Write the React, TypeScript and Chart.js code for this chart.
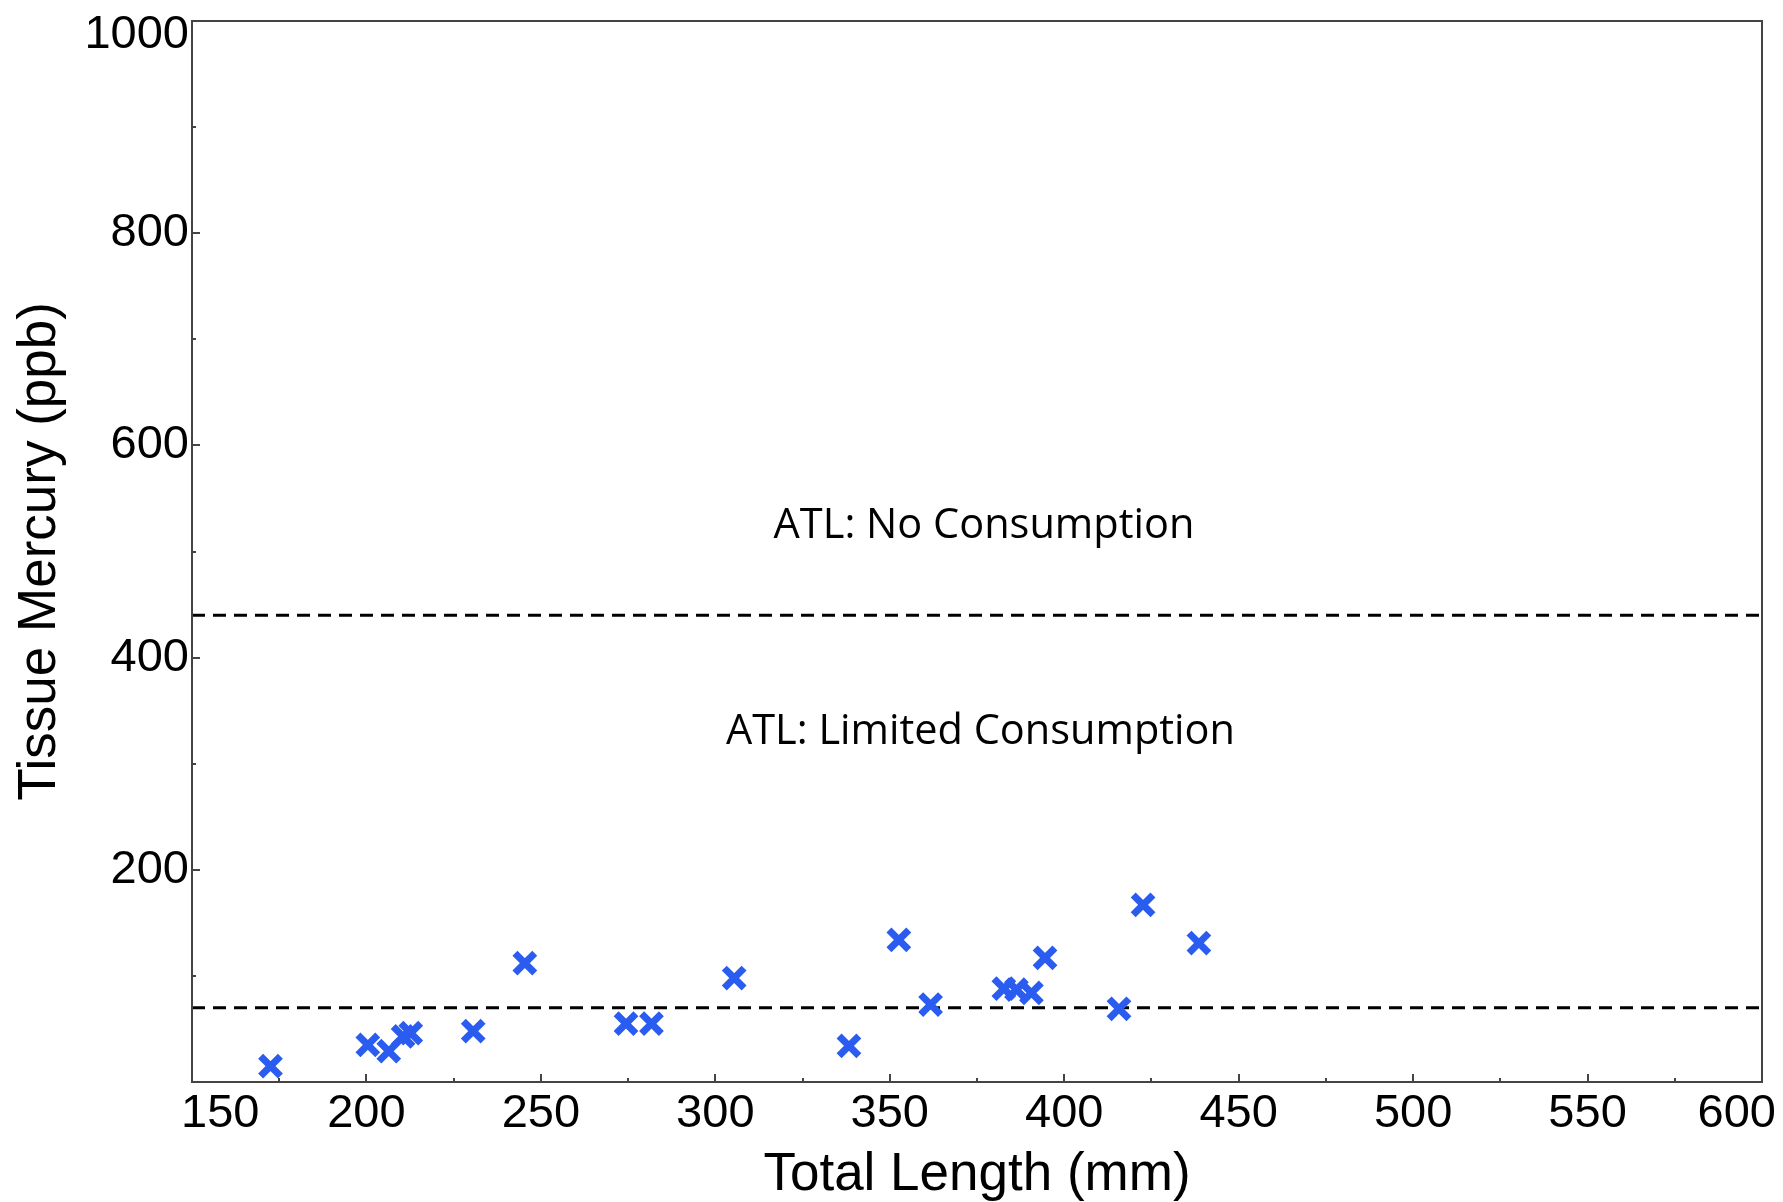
import { useEffect, useRef } from "react";
import { Chart, registerables } from "chart.js";

Chart.register(...registerables);

// Fish samples: total length (mm) vs tissue mercury (ppb)
const lengthMm = [172.5, 200.4, 206.4, 210.5, 212.7, 230.6, 245.4, 274.4, 281.7, 305.4, 338.3, 352.6, 361.7, 382.7, 386.3, 390.6, 394.5, 415.7, 422.6, 438.6];
const mercuryPpb = [15, 35, 29, 43, 46, 48, 112, 55, 55, 98, 34, 134, 73, 88, 87, 84, 117, 69, 167, 131];

// Advisory thresholds (ppb)
const thresholdsPpb = [440, 70];
const zoneLabels = ["ATL: No Consumption", "ATL: Limited Consumption"];

// Axis ticks
const xTickValues = [150, 200, 250, 300, 350, 400, 450, 500, 550, 600];
const xTickLabels = ["150", "200", "250", "300", "350", "400", "450", "500", "550", "600"];
const xMinorValues = [175, 225, 275, 325, 375, 425, 475, 525, 575];
const yTickValues = [0, 200, 400, 600, 800, 1000];
const yTickLabels = ["", "200", "400", "600", "800", "1000"];
const yMinorValues = [100, 300, 500, 700, 900];

// Label anchors in data space (x centre, text baseline)
const zoneAnchorX = [377, 376];
const zoneAnchorY = [513, 319];

const ARIAL = "'Liberation Sans', Arial, sans-serif";

const decorPlugin = {
  id: "decor",
  afterDatasetsDraw(chart: any) {
    const { ctx, chartArea: a, scales } = chart;
    const x = scales.x;
    const y = scales.y;
    ctx.save();
    ctx.strokeStyle = "#444444";
    ctx.lineWidth = 2;
    ctx.beginPath();
    xTickValues.forEach((v) => {
      const px = Math.round(x.getPixelForValue(v));
      ctx.moveTo(px, a.bottom);
      ctx.lineTo(px, a.bottom - 8);
    });
    xMinorValues.forEach((v) => {
      const px = Math.round(x.getPixelForValue(v));
      ctx.moveTo(px, a.bottom);
      ctx.lineTo(px, a.bottom - 4);
    });
    yTickValues.forEach((v) => {
      const py = Math.round(y.getPixelForValue(v));
      ctx.moveTo(a.left, py);
      ctx.lineTo(a.left + 8, py);
    });
    yMinorValues.forEach((v) => {
      const py = Math.round(y.getPixelForValue(v));
      ctx.moveTo(a.left, py);
      ctx.lineTo(a.left + 4, py);
    });
    ctx.stroke();
    ctx.strokeRect(a.left, a.top, a.right - a.left, a.bottom - a.top);

    // tick labels
    ctx.fillStyle = "#000000";
    ctx.font = `47px ${ARIAL}`;
    ctx.textBaseline = "middle";
    const last = xTickLabels.length - 1;
    xTickLabels.forEach((lab, i) => {
      const px = x.getPixelForValue(xTickValues[i]);
      let dx = 0;
      if (i === 0) {
        ctx.textAlign = "left";
        dx = -11;
      } else if (i === last) {
        ctx.textAlign = "right";
        dx = 14;
      } else {
        ctx.textAlign = "center";
      }
      ctx.fillText(lab, px + dx, a.bottom + 32);
    });
    ctx.textAlign = "right";
    const yLast = yTickLabels.length - 1;
    yTickLabels.forEach((lab, i) => {
      if (!lab) return;
      const py = y.getPixelForValue(yTickValues[i]);
      const dy = i === yLast ? 14 : 0;
      ctx.fillText(lab, a.left - 3, py + dy);
    });

    // zone labels
    ctx.font = "41.5px 'Open Sans', sans-serif";
    ctx.textAlign = "center";
    ctx.textBaseline = "alphabetic";
    zoneLabels.forEach((t, i) => {
      ctx.fillText(t, x.getPixelForValue(zoneAnchorX[i]), y.getPixelForValue(zoneAnchorY[i]));
    });
    ctx.restore();
  },
};

export default function App() {
  const ref = useRef<HTMLCanvasElement | null>(null);

  useEffect(() => {
    if (!ref.current) return;
    const points = lengthMm.map((v, i) => ({ x: v, y: mercuryPpb[i] }));
    const lines = thresholdsPpb.map((t) => ({
      type: "line" as const,
      data: [
        { x: xTickValues[0], y: t },
        { x: xTickValues[xTickValues.length - 1], y: t },
      ],
      borderColor: "#000000",
      borderWidth: 3,
      borderDash: [13, 8],
      pointRadius: 0,
      fill: false,
    }));
    const chart = new Chart(ref.current, {
      type: "scatter",
      data: {
        datasets: [
          {
            data: points,
            pointStyle: "crossRot",
            pointRadius: 14,
            pointBorderWidth: 7,
            borderColor: "#2a5cf0",
            backgroundColor: "#2a5cf0",
          } as any,
          ...lines,
        ],
      },
      options: {
        animation: false,
        responsive: false,
        devicePixelRatio: 1,
        events: [],
        layout: { padding: { top: 16, right: 18, left: 0, bottom: 0 } },
        plugins: { legend: { display: false }, tooltip: { enabled: false } },
        scales: {
          x: {
            type: "linear",
            min: 150,
            max: 600,
            grid: { display: false, drawTicks: false, tickLength: 0 },
            border: { display: false },
            ticks: { display: false },
            title: {
              display: true,
              text: "Total Length (mm)",
              color: "#000000",
              font: { family: ARIAL, size: 53, lineHeight: 1 },
              padding: { top: 0, bottom: 0 },
            },
            afterFit: (s: any) => {
              s.height = 120;
              s.paddingLeft = 0;
              s.paddingRight = 0;
            },
          },
          y: {
            type: "linear",
            min: 0,
            max: 1000,
            grid: { display: false, drawTicks: false, tickLength: 0 },
            border: { display: false },
            ticks: { display: false },
            title: {
              display: true,
              text: "Tissue Mercury (ppb)",
              color: "#000000",
              font: { family: ARIAL, size: 53, lineHeight: 1 },
              padding: { top: 14, bottom: 0 },
            },
            afterFit: (s: any) => {
              s.width = 192;
              s.paddingTop = 0;
              s.paddingBottom = 0;
            },
          },
        },
      } as any,
      plugins: [decorPlugin],
    });
    return () => chart.destroy();
  }, []);

  return (
    <div style={{ position: "absolute", left: 0, top: 0, width: 1783, height: 1202, background: "#ffffff" }}>
      <canvas ref={ref} width={1783} height={1202} style={{ width: 1783, height: 1202, display: "block" }} />
    </div>
  );
}
